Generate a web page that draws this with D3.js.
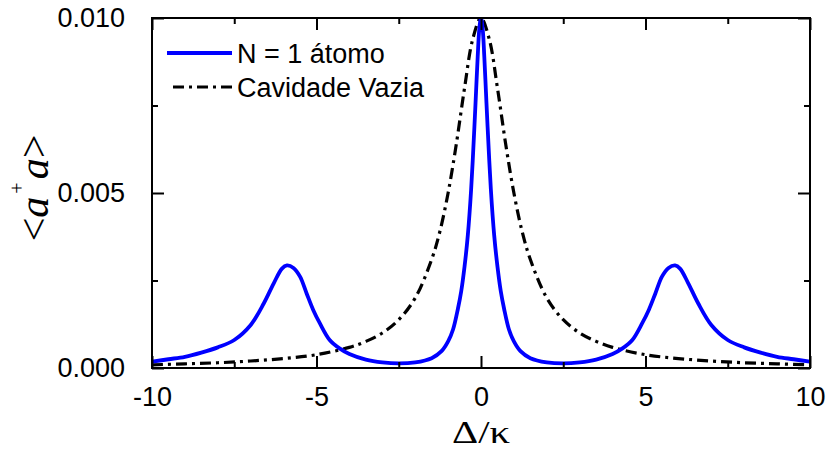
<!DOCTYPE html>
<html>
<head>
<meta charset="utf-8">
<script src="https://cdn.jsdelivr.net/npm/d3@7"></script>
<style>
  body { margin: 0; background: #fff; }
  svg { display: block; }
</style>
</head>
<body>
<div id="chart"></div>
<script>
// data
const detuning_blue = [-10, -9.5, -9, -8.5, -8, -7.5, -7, -6.6, -6.3, -6.05, -5.9, -5.7, -5.5, -5.3, -5.1, -4.9, -4.6, -4.3, -4, -3.5, -3, -2.5, -2, -1.5, -1.2, -1, -0.85, -0.7, -0.6, -0.5, -0.4, -0.3, -0.2, -0.15, -0.1, -0.05, 0,
  0.05, 0.1, 0.15, 0.2, 0.3, 0.4, 0.5, 0.6, 0.7, 0.85, 1, 1.2, 1.5, 2, 2.5, 3, 3.5, 4, 4.3, 4.6, 4.9, 5.1, 5.3, 5.5, 5.7, 5.9, 6.05, 6.3, 6.6, 7, 7.5, 8, 8.5, 9, 9.5, 10];
const atom_values = [0.00018, 0.00025, 0.00032, 0.00044, 0.00059, 0.0008, 0.00123, 0.00185, 0.00242, 0.00284, 0.00293, 0.00286, 0.00261, 0.00213, 0.00166, 0.00128, 0.0008, 0.00056, 0.0004, 0.00024, 0.00016, 0.00013, 0.00016, 0.00028, 0.00048, 0.00076, 0.0011, 0.0017, 0.0022, 0.0029, 0.0038, 0.0051, 0.0069, 0.0079, 0.0089, 0.0097, 0.0100,
  0.0097, 0.0089, 0.0079, 0.0069, 0.0051, 0.0038, 0.0029, 0.0022, 0.0017, 0.0011, 0.00076, 0.00048, 0.00028, 0.00016, 0.00013, 0.00016, 0.00024, 0.0004, 0.00056, 0.0008, 0.00128, 0.00166, 0.00213, 0.00261, 0.00286, 0.00293, 0.00284, 0.00242, 0.00185, 0.00123, 0.0008, 0.00059, 0.00044, 0.00032, 0.00025, 0.00018];

const detuning_black = [-10, -9, -8, -7, -6, -5, -4, -3.5, -3, -2.5, -2, -1.5, -1.25, -1, -0.75, -0.5, -0.25, 0, 0.25, 0.5, 0.75, 1, 1.25, 1.5, 2, 2.5, 3, 3.5, 4, 5, 6, 7, 8, 9, 10];
const empty_values = [0.00009, 0.00012, 0.00015, 0.0002, 0.00027, 0.00038, 0.00059, 0.00076, 0.001, 0.00138, 0.002, 0.0031, 0.0039, 0.005, 0.0064, 0.008, 0.0094, 0.0100, 0.0094, 0.008, 0.0064, 0.005, 0.0039, 0.0031, 0.002, 0.00138, 0.001, 0.00076, 0.00059, 0.00038, 0.00027, 0.0002, 0.00015, 0.00012, 0.00009];

const legend_labels = ["N = 1 átomo", "Cavidade Vazia"];
const x_ticks = [-10, -5, 0, 5, 10];
const x_minor = [-7.5, -2.5, 2.5, 7.5];
const y_ticks = [0, 0.005, 0.01];
const y_minor = [0.0025, 0.0075];

let dimensions = {
  width: 829,
  height: 450,
  margin: { top: 18, bottom: 82, left: 152, right: 19 },
};
dimensions.containerWidth = dimensions.width - dimensions.margin.left - dimensions.margin.right;
dimensions.containerHeight = dimensions.height - dimensions.margin.top - dimensions.margin.bottom;

const svg = d3.select("#chart").append("svg")
  .attr("width", dimensions.width)
  .attr("height", dimensions.height);

const container = svg.append("g")
  .attr("transform", `translate(${dimensions.margin.left}, ${dimensions.margin.top})`);

const xScale = d3.scaleLinear().domain([-10, 10]).range([0, dimensions.containerWidth]);
const yScale = d3.scaleLinear().domain([0, 0.01]).range([dimensions.containerHeight, 0]);

container.append("clipPath").attr("id", "clip")
  .append("rect")
  .attr("width", dimensions.containerWidth)
  .attr("height", dimensions.containerHeight);

const line = d3.line()
  .x((d) => xScale(d[0]))
  .y((d) => yScale(d[1]))
  .curve(d3.curveCatmullRom.alpha(0.5));

const plot = container.append("g").attr("clip-path", "url(#clip)");

plot.append("path")
  .datum(d3.zip(detuning_black, empty_values))
  .attr("d", line)
  .attr("fill", "none")
  .attr("stroke", "#000")
  .attr("stroke-width", 3.2)
  .attr("stroke-dasharray", "11,5,3,5");

plot.append("path")
  .datum(d3.zip(detuning_blue, atom_values))
  .attr("d", line)
  .attr("fill", "none")
  .attr("stroke", "#0000ff")
  .attr("stroke-width", 3.8);

// axes, ticks inward on all four sides
const tickFont = "'Liberation Sans', Arial, sans-serif";
const hyphenFormat = (d) => String(d).replace("−", "-");

function styleAxis(g) {
  g.select(".domain").remove();
  g.selectAll(".tick line").attr("stroke", "#000").attr("stroke-width", 2);
  g.selectAll(".tick text").attr("font-family", tickFont).attr("font-size", 27).attr("fill", "#000");
}

container.append("g")
  .attr("transform", `translate(0, ${dimensions.containerHeight})`)
  .call(d3.axisBottom(xScale).tickValues(x_ticks).tickSize(-12).tickPadding(19).tickFormat(hyphenFormat))
  .call(styleAxis);
container.append("g")
  .attr("transform", `translate(0, ${dimensions.containerHeight})`)
  .call(d3.axisBottom(xScale).tickValues(x_minor).tickSize(-6).tickFormat(""))
  .call(styleAxis);
container.append("g")
  .call(d3.axisTop(xScale).tickValues(x_ticks).tickSize(-12).tickFormat(""))
  .call(styleAxis);
container.append("g")
  .call(d3.axisTop(xScale).tickValues(x_minor).tickSize(-6).tickFormat(""))
  .call(styleAxis);

container.append("g")
  .call(d3.axisLeft(yScale).tickValues(y_ticks).tickSize(-12).tickPadding(27).tickFormat(d3.format(".3f")))
  .call(styleAxis);
container.append("g")
  .call(d3.axisLeft(yScale).tickValues(y_minor).tickSize(-6).tickFormat(""))
  .call(styleAxis);
container.append("g")
  .attr("transform", `translate(${dimensions.containerWidth}, 0)`)
  .call(d3.axisRight(yScale).tickValues(y_ticks).tickSize(-12).tickFormat(""))
  .call(styleAxis);
container.append("g")
  .attr("transform", `translate(${dimensions.containerWidth}, 0)`)
  .call(d3.axisRight(yScale).tickValues(y_minor).tickSize(-6).tickFormat(""))
  .call(styleAxis);

// frame
container.append("rect")
  .attr("width", dimensions.containerWidth)
  .attr("height", dimensions.containerHeight)
  .attr("fill", "none")
  .attr("stroke", "#000")
  .attr("stroke-width", 2);

// legend
const legend = container.append("g");
legend.append("line")
  .attr("x1", 15).attr("x2", 80).attr("y1", 35).attr("y2", 35)
  .attr("stroke", "#0000ff").attr("stroke-width", 3.8);
legend.append("line")
  .attr("x1", 21).attr("x2", 80).attr("y1", 69).attr("y2", 69)
  .attr("stroke", "#000").attr("stroke-width", 3.2)
  .attr("stroke-dasharray", "11,5,3,5");
legend.selectAll("text")
  .data(legend_labels)
  .join("text")
  .attr("x", 85)
  .attr("y", (d, i) => 45 + i * 34)
  .attr("font-family", tickFont)
  .attr("font-size", 27)
  .attr("fill", "#000")
  .text((d) => d);

// axis titles
svg.append("text")
  .attr("x", dimensions.margin.left + dimensions.containerWidth / 2)
  .attr("y", 443)
  .attr("text-anchor", "middle")
  .attr("font-family", "'Liberation Serif', 'Times New Roman', serif")
  .attr("font-size", 31)
  .attr("textLength", 58)
  .attr("lengthAdjust", "spacingAndGlyphs")
  .text("Δ/κ");

const yTitle = svg.append("text")
  .attr("transform", "translate(48, 188) rotate(-90)")
  .attr("text-anchor", "middle")
  .attr("font-family", "'Liberation Serif', 'Times New Roman', serif")
  .attr("font-size", 42);
yTitle.append("tspan").text("<");
yTitle.append("tspan").attr("font-style", "italic").text("a");
yTitle.append("tspan").attr("font-size", 20).attr("dy", -24).attr("dx", 3).text("+");
yTitle.append("tspan").attr("font-style", "italic").attr("dy", 24).attr("dx", 3).text("a");
yTitle.append("tspan").text(">");
</script>
</body>
</html>
